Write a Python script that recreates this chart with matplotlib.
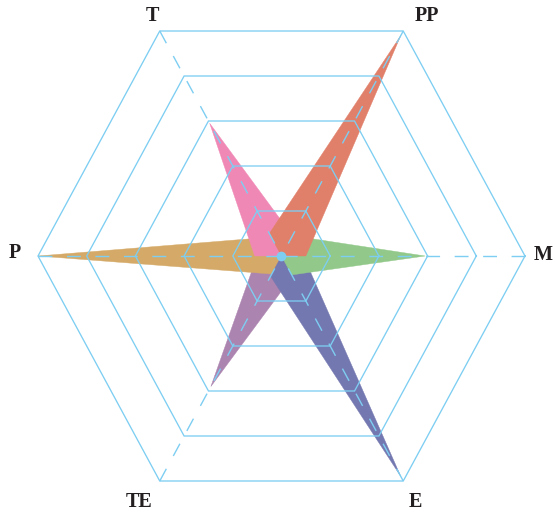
import numpy as np
import matplotlib
matplotlib.use("Agg")
import matplotlib.pyplot as plt

# axes (counter-clockwise from the right)
axes_labels = ["M", "PP", "T", "P", "TE", "E"]
max_value = 5
ring_levels = [1, 2, 3, 4, 5]

# series values, in the order of axes_labels (drawing order bottom -> top)
series_names = ["TE", "P", "T", "E", "M", "PP"]
values_TE = [0.0, 0.0, 0.0, 0.5, 2.9, 0.45]
values_P = [0.0, 0.0, 0.42, 5.0, 0.4, 0.0]
values_T = [0.0, 0.45, 2.95, 0.55, 0.0, 0.0]
values_E = [0.45, 0.0, 0.0, 0.0, 0.45, 4.9]
values_M = [2.95, 0.45, 0.0, 0.0, 0.0, 0.42]
values_PP = [0.5, 4.9, 0.5, 0.0, 0.0, 0.0]
series_values = [values_TE, values_P, values_T, values_E, values_M, values_PP]
series_colors = ["#AC84B0", "#D5AA68", "#F088B5", "#7478B0", "#92C98A", "#E1806A"]

grid_color = "#7DCEF2"
label_color = "#231F20"

W, H, DPI = 555, 517, 100
fig = plt.figure(figsize=(W / DPI, H / DPI), dpi=DPI)
ax = fig.add_axes([0, 0, 1, 1])
ax.set_axis_off()

# pixel geometry -> data limits
cx_px, cy_px = 281.5, 256.0
rx_px, ry_px = 243.5, 259.8
ax.set_xlim(-cx_px / rx_px * max_value, (W - cx_px) / rx_px * max_value)
ax.set_ylim(-(H - cy_px) / ry_px * max_value, cy_px / ry_px * max_value)

angles = np.deg2rad(np.arange(len(axes_labels)) * 60.0)
cosa, sina = np.cos(angles), np.sin(angles)

# filled series
for vals, col in zip(series_values, series_colors):
    v = np.array(vals)
    ax.fill(v * cosa, v * sina, facecolor=col, edgecolor=col, linewidth=0.3, zorder=2)

# rings
for lvl in ring_levels:
    xs = np.append(lvl * cosa, lvl * cosa[0])
    ys = np.append(lvl * sina, lvl * sina[0])
    ax.plot(xs, ys, color=grid_color, linewidth=0.95, zorder=3, solid_joinstyle="miter")

# dashed spokes (from outer vertex inward)
for c, s in zip(cosa, sina):
    ax.plot([max_value * c, 0], [max_value * s, 0], color=grid_color, linewidth=1.0,
            dashes=(10, 10.5), zorder=3)

# centre dot
ax.plot([0], [0], marker="o", markersize=7, color=grid_color, zorder=4, markeredgewidth=0)

# axis labels
label_offsets = {  # offset in points from the outer vertex
    "M": (13, 1), "PP": (17, 11), "T": (-5, 11),
    "P": (-17, 2), "TE": (-15, -15), "E": (9, -15),
}
for name, c, s in zip(axes_labels, cosa, sina):
    dx, dy = label_offsets[name]
    ax.annotate(name, xy=(max_value * c, max_value * s), xytext=(dx, dy),
                textcoords="offset points", ha="center", va="center",
                fontsize=14.5, fontweight="bold", family="Liberation Serif",
                color=label_color, annotation_clip=False)

fig.savefig("out.png", dpi=DPI)
